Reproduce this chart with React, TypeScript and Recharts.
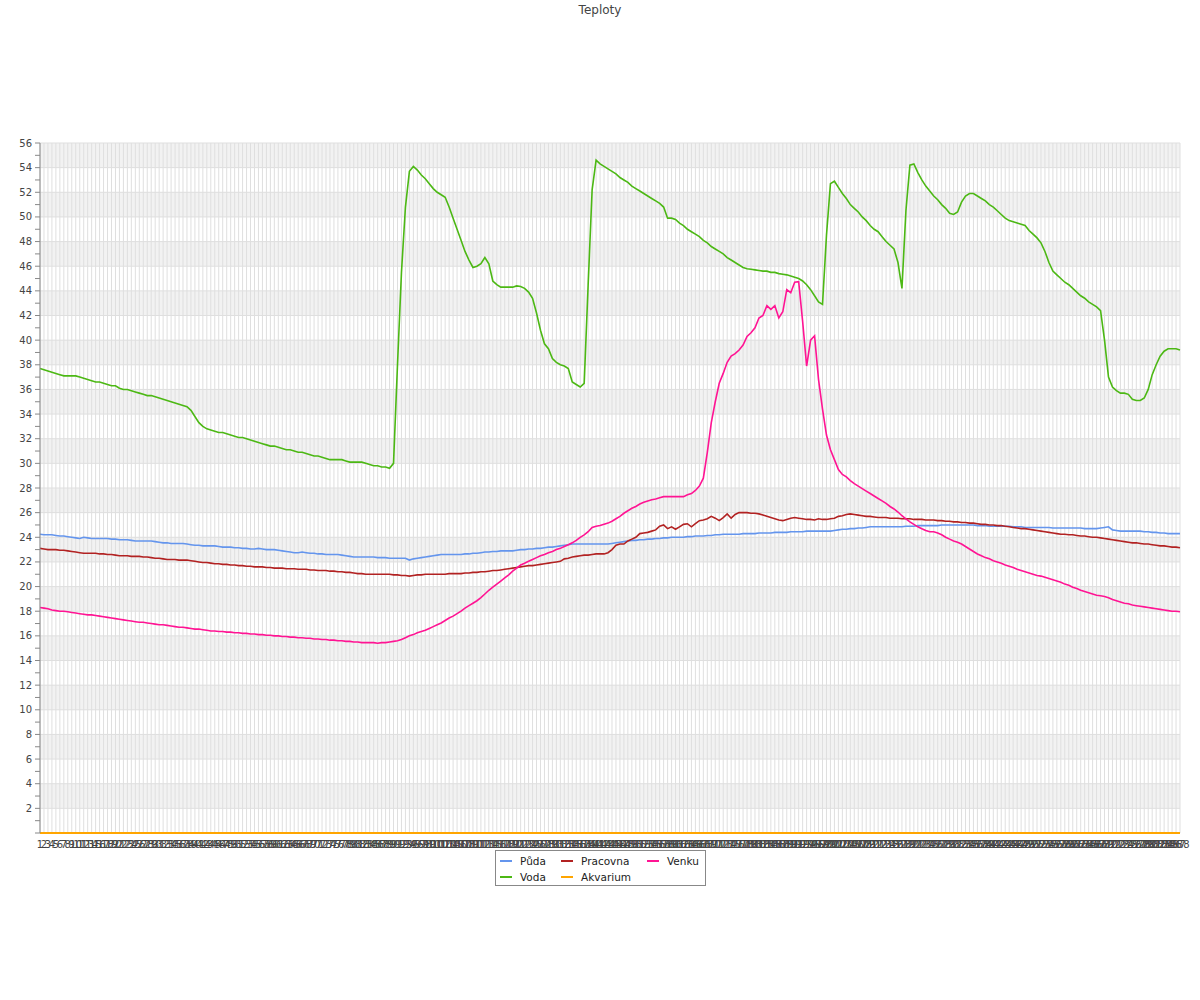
import { LineChart, Line, XAxis, YAxis, CartesianGrid, Legend } from "recharts";

// 288 five-minute readings, labelled 1..288
const categories = Array.from({ length: 288 }, (_, i) => String(i + 1));

const seriesNames = ["Půda", "Pracovna", "Venku", "Voda", "Akvarium"];

const yTicks = [
  0, 1, 2, 3, 4, 5, 6, 7, 8, 9, 10, 11, 12, 13, 14, 15, 16, 17, 18, 19, 20, 21, 22, 23, 24, 25, 26, 27, 28,
  29, 30, 31, 32, 33, 34, 35, 36, 37, 38, 39, 40, 41, 42, 43, 44, 45, 46, 47, 48, 49, 50, 51, 52, 53, 54, 55, 56,
];
const gridValues = [0, 2, 4, 6, 8, 10, 12, 14, 16, 18, 20, 22, 24, 26, 28, 30, 32, 34, 36, 38, 40, 42, 44, 46, 48, 50, 52, 54, 56];

const puda = [
  24.25, 24.2, 24.2, 24.2, 24.15, 24.1, 24.1, 24.05, 24.0, 23.95, 23.9, 24.0,
  23.95, 23.9, 23.9, 23.9, 23.9, 23.9, 23.85, 23.85, 23.8, 23.8, 23.8, 23.75,
  23.7, 23.7, 23.7, 23.7, 23.7, 23.65, 23.6, 23.55, 23.55, 23.5, 23.5, 23.5,
  23.5, 23.45, 23.4, 23.35, 23.35, 23.3, 23.3, 23.3, 23.3, 23.25, 23.2, 23.2,
  23.2, 23.15, 23.15, 23.1, 23.1, 23.05, 23.05, 23.1, 23.05, 23.0, 23.0, 23.0,
  22.95, 22.9, 22.85, 22.8, 22.75, 22.75, 22.8, 22.75, 22.7, 22.7, 22.65, 22.65,
  22.6, 22.6, 22.6, 22.6, 22.55, 22.5, 22.45, 22.4, 22.4, 22.4, 22.4, 22.4,
  22.4, 22.35, 22.35, 22.35, 22.3, 22.3, 22.3, 22.3, 22.3, 22.15, 22.25, 22.3,
  22.35, 22.4, 22.45, 22.5, 22.55, 22.6, 22.6, 22.6, 22.6, 22.6, 22.6, 22.65,
  22.65, 22.7, 22.7, 22.75, 22.8, 22.8, 22.85, 22.85, 22.9, 22.9, 22.9, 22.9,
  22.95, 23.0, 23.0, 23.05, 23.05, 23.1, 23.1, 23.15, 23.2, 23.2, 23.25, 23.3,
  23.35, 23.4, 23.45, 23.45, 23.45, 23.45, 23.45, 23.45, 23.45, 23.45, 23.45, 23.45,
  23.5, 23.55, 23.6, 23.65, 23.7, 23.75, 23.75, 23.8, 23.8, 23.85, 23.85, 23.9,
  23.9, 23.95, 23.95, 24.0, 24.0, 24.0, 24.0, 24.05, 24.05, 24.1, 24.1, 24.1,
  24.15, 24.15, 24.2, 24.2, 24.25, 24.25, 24.25, 24.25, 24.25, 24.3, 24.3, 24.3,
  24.3, 24.35, 24.35, 24.35, 24.35, 24.4, 24.4, 24.4, 24.4, 24.45, 24.45, 24.45,
  24.45, 24.5, 24.5, 24.5, 24.5, 24.5, 24.5, 24.5, 24.55, 24.6, 24.65, 24.65,
  24.7, 24.7, 24.75, 24.75, 24.8, 24.85, 24.85, 24.85, 24.85, 24.85, 24.85, 24.85,
  24.85, 24.85, 24.9, 24.9, 24.9, 24.95, 24.95, 24.95, 24.95, 24.95, 24.95, 25.0,
  25.0, 25.0, 25.0, 25.0, 25.0, 25.0, 25.0, 25.0, 24.95, 24.95, 24.95, 24.9,
  24.9, 24.9, 24.9, 24.9, 24.9, 24.85, 24.85, 24.85, 24.8, 24.8, 24.8, 24.8,
  24.8, 24.8, 24.8, 24.75, 24.75, 24.75, 24.75, 24.75, 24.75, 24.75, 24.75, 24.7,
  24.7, 24.7, 24.7, 24.75, 24.8, 24.85, 24.6, 24.55, 24.5, 24.5, 24.5, 24.5,
  24.5, 24.5, 24.45, 24.45, 24.4, 24.4, 24.35, 24.35, 24.3, 24.3, 24.3, 24.3,
];

const pracovna = [
  23.1, 23.05, 23.0, 23.0, 23.0, 22.95, 22.95, 22.9, 22.85, 22.8, 22.75, 22.7,
  22.7, 22.7, 22.7, 22.65, 22.65, 22.6, 22.6, 22.55, 22.5, 22.5, 22.5, 22.45,
  22.45, 22.45, 22.4, 22.4, 22.35, 22.3, 22.3, 22.25, 22.2, 22.2, 22.2, 22.15,
  22.15, 22.15, 22.1, 22.05, 22.0, 21.95, 21.95, 21.9, 21.85, 21.85, 21.8, 21.8,
  21.75, 21.75, 21.7, 21.7, 21.65, 21.65, 21.6, 21.6, 21.6, 21.55, 21.55, 21.5,
  21.5, 21.5, 21.45, 21.45, 21.45, 21.4, 21.4, 21.4, 21.35, 21.35, 21.3, 21.3,
  21.3, 21.25, 21.25, 21.2, 21.2, 21.15, 21.15, 21.1, 21.05, 21.05, 21.0, 21.0,
  21.0, 21.0, 21.0, 21.0, 21.0, 20.95, 20.95, 20.9, 20.9, 20.85, 20.9, 20.95,
  20.95, 21.0, 21.0, 21.0, 21.0, 21.0, 21.0, 21.05, 21.05, 21.05, 21.05, 21.1,
  21.1, 21.15, 21.15, 21.2, 21.2, 21.25, 21.3, 21.3, 21.35, 21.4, 21.45, 21.5,
  21.55, 21.6, 21.65, 21.7, 21.7, 21.75, 21.8, 21.85, 21.9, 21.95, 22.0, 22.05,
  22.25, 22.3, 22.4, 22.45, 22.5, 22.55, 22.55, 22.6, 22.65, 22.65, 22.65, 22.75,
  23.0, 23.35, 23.45, 23.45, 23.7, 23.85, 24.0, 24.3, 24.35, 24.4, 24.5, 24.6,
  24.9, 25.0, 24.7, 24.85, 24.65, 24.85, 25.05, 25.1, 24.85, 25.1, 25.35, 25.4,
  25.5, 25.7, 25.55, 25.35, 25.6, 25.9, 25.55, 25.85, 26.0, 26.0, 26.0, 25.95,
  25.95, 25.9, 25.8, 25.7, 25.6, 25.5, 25.4, 25.35, 25.45, 25.55, 25.6, 25.55,
  25.5, 25.45, 25.45, 25.4, 25.5, 25.45, 25.45, 25.5, 25.55, 25.7, 25.75, 25.85,
  25.9, 25.85, 25.8, 25.75, 25.7, 25.7, 25.65, 25.6, 25.6, 25.6, 25.55, 25.55,
  25.55, 25.5, 25.5, 25.5, 25.45, 25.45, 25.45, 25.4, 25.4, 25.4, 25.35, 25.35,
  25.3, 25.3, 25.25, 25.25, 25.2, 25.2, 25.15, 25.15, 25.1, 25.05, 25.05, 25.0,
  25.0, 24.95, 24.95, 24.9, 24.85, 24.8, 24.75, 24.7, 24.7, 24.65, 24.6, 24.55,
  24.5, 24.45, 24.4, 24.35, 24.3, 24.25, 24.25, 24.2, 24.2, 24.15, 24.1, 24.1,
  24.05, 24.0, 24.0, 23.95, 23.9, 23.85, 23.8, 23.75, 23.7, 23.65, 23.6, 23.55,
  23.55, 23.5, 23.45, 23.45, 23.4, 23.35, 23.3, 23.3, 23.25, 23.2, 23.2, 23.15,
];

const venku = [
  18.3, 18.25, 18.2, 18.1, 18.05, 18.0, 18.0, 17.95, 17.9, 17.85, 17.8, 17.75,
  17.7, 17.7, 17.65, 17.6, 17.55, 17.5, 17.45, 17.4, 17.35, 17.3, 17.25, 17.2,
  17.15, 17.1, 17.1, 17.05, 17.0, 16.95, 16.9, 16.9, 16.85, 16.8, 16.75, 16.7,
  16.7, 16.65, 16.6, 16.55, 16.55, 16.5, 16.45, 16.4, 16.4, 16.35, 16.35, 16.3,
  16.3, 16.25, 16.25, 16.2, 16.2, 16.15, 16.15, 16.1, 16.1, 16.05, 16.05, 16.0,
  16.0, 15.95, 15.95, 15.9, 15.9, 15.85, 15.85, 15.8, 15.8, 15.75, 15.75, 15.7,
  15.7, 15.65, 15.65, 15.6, 15.6, 15.55, 15.55, 15.5, 15.5, 15.45, 15.45, 15.45,
  15.45, 15.4, 15.45, 15.45, 15.5, 15.55, 15.6, 15.7, 15.85, 16.0, 16.1, 16.25,
  16.35, 16.45, 16.6, 16.75, 16.9, 17.05, 17.25, 17.45, 17.6, 17.8, 18.0, 18.25,
  18.45, 18.65, 18.85, 19.1, 19.4, 19.7, 19.95, 20.2, 20.45, 20.7, 20.95, 21.25,
  21.5, 21.75, 21.9, 22.05, 22.2, 22.35, 22.5, 22.6, 22.75, 22.85, 23.0, 23.1,
  23.25, 23.4, 23.55, 23.75, 24.0, 24.2, 24.45, 24.8, 24.9, 24.95, 25.05, 25.15,
  25.3, 25.5, 25.7, 25.95, 26.15, 26.35, 26.5, 26.7, 26.85, 26.95, 27.05, 27.1,
  27.2, 27.3, 27.3, 27.3, 27.3, 27.3, 27.3, 27.45, 27.55, 27.8, 28.15, 28.8,
  30.9, 33.3, 35.0, 36.5, 37.3, 38.2, 38.7, 38.9, 39.2, 39.6, 40.3, 40.6,
  41.0, 41.8, 42.0, 42.8, 42.5, 42.8, 41.8, 42.3, 44.1, 43.85, 44.7, 44.75,
  41.5, 37.9, 40.0, 40.35, 36.8, 34.4, 32.3, 31.1, 30.3, 29.5, 29.1, 28.9,
  28.6, 28.35, 28.15, 27.95, 27.75, 27.55, 27.35, 27.15, 26.95, 26.75, 26.5, 26.3,
  26.05, 25.75, 25.5, 25.25, 25.05, 24.85, 24.7, 24.55, 24.45, 24.45, 24.35, 24.2,
  24.0, 23.85, 23.7, 23.6, 23.45, 23.25, 23.05, 22.85, 22.65, 22.5, 22.35, 22.25,
  22.1, 22.0, 21.9, 21.75, 21.65, 21.55, 21.4, 21.3, 21.2, 21.1, 21.0, 20.9,
  20.85, 20.75, 20.65, 20.55, 20.45, 20.35, 20.2, 20.1, 19.95, 19.85, 19.7, 19.6,
  19.5, 19.4, 19.3, 19.25, 19.2, 19.1, 18.95, 18.85, 18.75, 18.65, 18.6, 18.5,
  18.45, 18.4, 18.35, 18.3, 18.25, 18.2, 18.15, 18.1, 18.05, 18.0, 18.0, 17.95,
];

const voda = [
  37.7, 37.6, 37.5, 37.4, 37.3, 37.2, 37.1, 37.1, 37.1, 37.1, 37.0, 36.9,
  36.8, 36.7, 36.6, 36.6, 36.5, 36.4, 36.3, 36.3, 36.1, 36.0, 36.0, 35.9,
  35.8, 35.7, 35.6, 35.5, 35.5, 35.4, 35.3, 35.2, 35.1, 35.0, 34.9, 34.8,
  34.7, 34.6, 34.3, 33.8, 33.3, 33.0, 32.8, 32.7, 32.6, 32.5, 32.5, 32.4,
  32.3, 32.2, 32.1, 32.1, 32.0, 31.9, 31.8, 31.7, 31.6, 31.5, 31.4, 31.4,
  31.3, 31.2, 31.1, 31.1, 31.0, 30.9, 30.9, 30.8, 30.7, 30.6, 30.6, 30.5,
  30.4, 30.3, 30.3, 30.3, 30.3, 30.2, 30.1, 30.1, 30.1, 30.1, 30.0, 29.9,
  29.8, 29.8, 29.7, 29.7, 29.6, 30.0, 38.0, 45.5, 50.8, 53.7, 54.1, 53.8,
  53.4, 53.1, 52.7, 52.3, 52.0, 51.8, 51.6, 50.8, 49.9, 49.0, 48.1, 47.2,
  46.5, 45.9, 46.0, 46.2, 46.7, 46.2, 44.8, 44.5, 44.3, 44.3, 44.3, 44.3,
  44.4, 44.35, 44.2, 43.9, 43.4, 42.2, 40.8, 39.7, 39.3, 38.5, 38.2, 38.0,
  37.9, 37.7, 36.6, 36.4, 36.2, 36.5, 44.5, 52.2, 54.6, 54.3, 54.1, 53.9,
  53.7, 53.5, 53.2, 53.0, 52.8, 52.5, 52.3, 52.1, 51.9, 51.7, 51.5, 51.3,
  51.1, 50.8, 49.9, 49.9, 49.8, 49.5, 49.3, 49.0, 48.8, 48.6, 48.4, 48.1,
  47.9, 47.6, 47.4, 47.2, 47.0, 46.7, 46.5, 46.3, 46.1, 45.9, 45.8, 45.75,
  45.7, 45.65, 45.6, 45.6, 45.5, 45.5, 45.4, 45.35, 45.3, 45.2, 45.1, 45.0,
  44.8, 44.5, 44.1, 43.6, 43.1, 42.9, 48.5, 52.7, 52.9, 52.4, 51.9, 51.5,
  51.0, 50.7, 50.4, 50.0, 49.7, 49.3, 49.0, 48.8, 48.4, 48.0, 47.7, 47.4,
  46.3, 44.2, 50.5, 54.2, 54.3, 53.6, 53.0, 52.5, 52.1, 51.7, 51.4, 51.0,
  50.7, 50.3, 50.2, 50.4, 51.2, 51.7, 51.9, 51.9, 51.7, 51.5, 51.3, 51.0,
  50.8, 50.5, 50.2, 49.9, 49.7, 49.6, 49.5, 49.4, 49.3, 48.9, 48.6, 48.3,
  47.9, 47.2, 46.3, 45.6, 45.3, 45.0, 44.7, 44.5, 44.2, 43.9, 43.6, 43.4,
  43.1, 42.9, 42.7, 42.4, 40.0, 37.0, 36.2, 35.9, 35.7, 35.7, 35.6, 35.2,
  35.1, 35.1, 35.3, 36.0, 37.2, 38.0, 38.7, 39.1, 39.3, 39.3, 39.3, 39.2,
];

const akvarium = [
  0, 0, 0, 0, 0, 0, 0, 0, 0, 0, 0, 0, 0, 0, 0, 0, 0, 0, 0, 0, 0, 0, 0, 0,
  0, 0, 0, 0, 0, 0, 0, 0, 0, 0, 0, 0, 0, 0, 0, 0, 0, 0, 0, 0, 0, 0, 0, 0,
  0, 0, 0, 0, 0, 0, 0, 0, 0, 0, 0, 0, 0, 0, 0, 0, 0, 0, 0, 0, 0, 0, 0, 0,
  0, 0, 0, 0, 0, 0, 0, 0, 0, 0, 0, 0, 0, 0, 0, 0, 0, 0, 0, 0, 0, 0, 0, 0,
  0, 0, 0, 0, 0, 0, 0, 0, 0, 0, 0, 0, 0, 0, 0, 0, 0, 0, 0, 0, 0, 0, 0, 0,
  0, 0, 0, 0, 0, 0, 0, 0, 0, 0, 0, 0, 0, 0, 0, 0, 0, 0, 0, 0, 0, 0, 0, 0,
  0, 0, 0, 0, 0, 0, 0, 0, 0, 0, 0, 0, 0, 0, 0, 0, 0, 0, 0, 0, 0, 0, 0, 0,
  0, 0, 0, 0, 0, 0, 0, 0, 0, 0, 0, 0, 0, 0, 0, 0, 0, 0, 0, 0, 0, 0, 0, 0,
  0, 0, 0, 0, 0, 0, 0, 0, 0, 0, 0, 0, 0, 0, 0, 0, 0, 0, 0, 0, 0, 0, 0, 0,
  0, 0, 0, 0, 0, 0, 0, 0, 0, 0, 0, 0, 0, 0, 0, 0, 0, 0, 0, 0, 0, 0, 0, 0,
  0, 0, 0, 0, 0, 0, 0, 0, 0, 0, 0, 0, 0, 0, 0, 0, 0, 0, 0, 0, 0, 0, 0, 0,
  0, 0, 0, 0, 0, 0, 0, 0, 0, 0, 0, 0, 0, 0, 0, 0, 0, 0, 0, 0, 0, 0, 0, 0,
];

const data = categories.map((name, i) => ({
  name,
  puda: puda[i],
  pracovna: pracovna[i],
  venku: venku[i],
  voda: voda[i],
  akvarium: akvarium[i],
}));

const FONT = '"DejaVu Sans", sans-serif';

function YTick(props: any) {
  const { x, y, payload } = props;
  const v = payload.value;
  if (v === 0 || v % 2 !== 0) return null;
  return (
    <text x={x} y={y} dy="0.35em" textAnchor="end" fontSize={10} fill="#444">
      {v}
    </text>
  );
}

function LegendBox(props: any) {
  const items = [...(props.payload || [])].sort(
    (a: any, b: any) => seriesNames.indexOf(a.value) - seriesNames.indexOf(b.value)
  );
  return (
    <div
      style={{
        boxSizing: "border-box",
        width: 211,
        height: 36,
        border: "1px solid #888",
        background: "#fff",
        padding: "2px 4px",
        display: "grid",
        gridTemplateColumns: "61px 86px auto",
        fontSize: 10.5,
        color: "#222",
        fontFamily: FONT,
      }}
    >
      {items.map((p: any) => (
        <div key={p.value} style={{ display: "flex", alignItems: "center", height: 16, whiteSpace: "nowrap" }}>
          <span style={{ display: "inline-block", flexShrink: 0, width: 12, height: 2, background: p.color, marginRight: 8 }} />
          {p.value}
        </div>
      ))}
    </div>
  );
}

export default function App() {
  return (
    <div style={{ position: "absolute", left: 0, top: 0, width: 1200, height: 1000, background: "#fff", fontFamily: FONT }}>
      <div style={{ position: "absolute", top: 3, left: 0, width: 1200, textAlign: "center", fontSize: 12, lineHeight: "15px", color: "#444" }}>
        Teploty
      </div>
      <LineChart width={1200} height={1000} data={data} margin={{ top: 143, right: 20, left: 0, bottom: 147 }}>
        <CartesianGrid
          stroke="#dfdfdf"
          horizontalValues={gridValues}
          yAxisId="t"
          horizontalFill={["rgba(0,0,0,0.05)", "rgba(0,0,0,0)"]}
        />
        <XAxis
          dataKey="name"
          interval={0}
          height={20}
          tickLine={false}
          axisLine={false}
          tick={{ fontSize: 10, fill: "#444" }}
        />
        <YAxis
          yAxisId="t"
          width={40}
          domain={[0, 56]}
          ticks={yTicks}
          interval={0}
          tickSize={5}
          tickMargin={3}
          axisLine={{ stroke: "#888" }}
          tickLine={{ stroke: "#888" }}
          tick={<YTick />}
        />
        <Legend
          layout="vertical"
          align="center"
          verticalAlign="middle"
          content={<LegendBox />}
          wrapperStyle={{ left: 495, top: 850, width: 211, height: 36 }}
        />
        <Line yAxisId="t" name="Půda" dataKey="puda" type="linear" stroke="#6495ed" strokeWidth={1.6} dot={false} isAnimationActive={false} />
        <Line yAxisId="t" name="Pracovna" dataKey="pracovna" type="linear" stroke="#b22222" strokeWidth={1.6} dot={false} isAnimationActive={false} />
        <Line yAxisId="t" name="Venku" dataKey="venku" type="linear" stroke="#ff1493" strokeWidth={1.6} dot={false} isAnimationActive={false} />
        <Line yAxisId="t" name="Voda" dataKey="voda" type="linear" stroke="#4cb814" strokeWidth={1.6} dot={false} isAnimationActive={false} />
        <Line yAxisId="t" name="Akvarium" dataKey="akvarium" type="linear" stroke="#ffa500" strokeWidth={2} dot={false} isAnimationActive={false} />
      </LineChart>
    </div>
  );
}
